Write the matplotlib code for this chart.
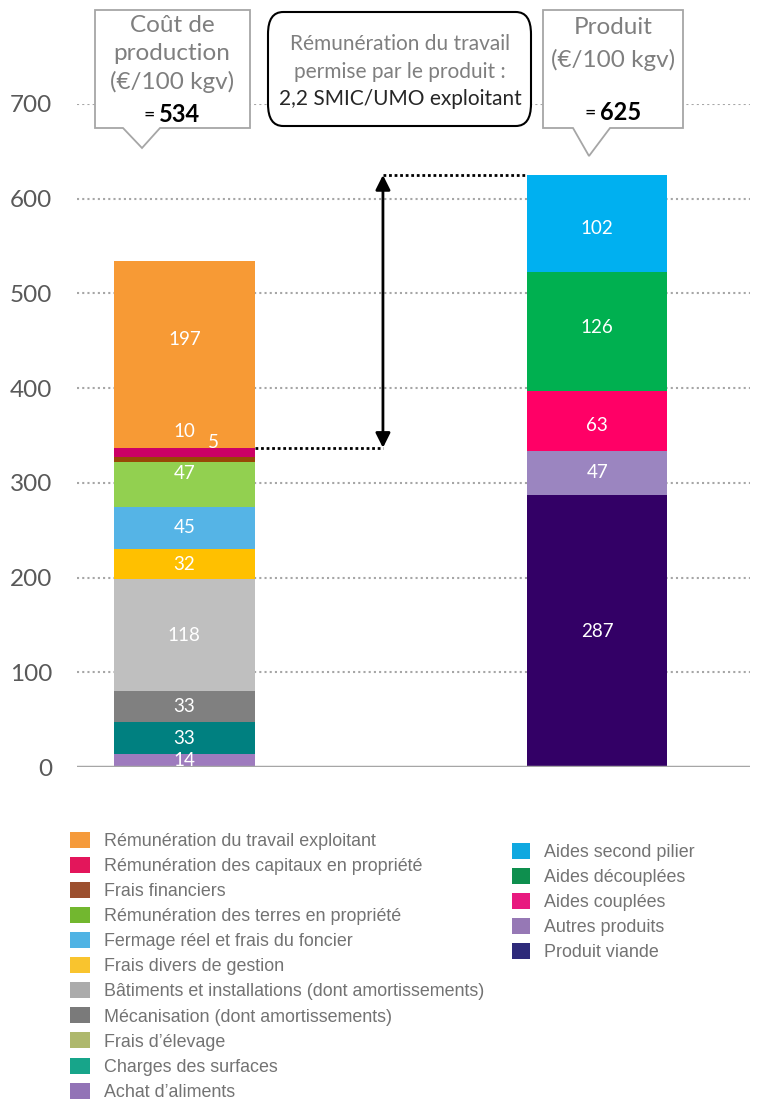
import matplotlib.pyplot as plt
import numpy as np
from matplotlib.patches import Polygon, FancyBboxPatch, Patch

# cost components, bottom -> top
cost_labels = ["Achat d’aliments", "Charges des surfaces", "Frais d’élevage",
               "Mécanisation (dont amortissements)",
               "Bâtiments et installations (dont amortissements)",
               "Frais divers de gestion", "Fermage réel et frais du foncier",
               "Rémunération des terres en propriété", "Frais financiers",
               "Rémunération des capitaux en propriété",
               "Rémunération du travail exploitant"]
cost_values = [14, 33, 0, 33, 118, 32, 45, 47, 5, 10, 197]
cost_colors = ["#9E7BBE", "#008080", "#A9B96B", "#808080", "#BFBFBF", "#FFC000",
               "#55B4E6", "#92D050", "#974806", "#CC0066", "#F79A35"]
cost_legend_colors = ["#9273B6", "#17A58A", "#AEB86C", "#7A7A7A", "#ABABAB", "#F9C42E",
                      "#4FB3E4", "#72B72F", "#9C4F2E", "#E3165B", "#F59A3B"]

# product components, bottom -> top
prod_labels = ["Produit viande", "Autres produits", "Aides couplées",
               "Aides découplées", "Aides second pilier"]
prod_values = [287, 47, 63, 126, 102]
prod_colors = ["#330066", "#9B85C0", "#FF0066", "#00B050", "#00B0F0"]
prod_legend_colors = ["#2E2A7A", "#9678B5", "#E8197F", "#0E8F4E", "#0FA8E0"]

yticks = [0, 100, 200, 300, 400, 500, 600, 700]

W, H = 758, 1102
fig = plt.figure(figsize=(W / 100, H / 100), dpi=100)


def fx(px):
    return px / W


def fy(py):
    return 1 - py / H


ax = fig.add_axes([fx(77), fy(767), fx(750) - fx(77), fy(104) - fy(767)])
ax.set_ylim(0, 700)
ax.set_xlim(-0.26, 1.37)
for s in ax.spines.values():
    s.set_visible(False)
ax.set_xticks([])
ax.set_yticks(yticks)
ax.set_yticklabels([str(t) for t in yticks], fontfamily="Lato", fontsize=17.5, color="#595959")
ax.tick_params(axis="y", length=0, pad=18)
for t in yticks[1:]:
    ax.axhline(t, color="#A6A6A6", lw=1.5, ls=(0, (1, 1.5)), zorder=0)
ax.axhline(0, color="#A6A6A6", lw=2.5, zorder=3)

bw = 0.34
xc, xp = 0, 1

# label nudges (data units), as placed in the original
nudge = {7: (0, 11), 8: (0.07, 18), 9: (0.0, 22), 10: (0, 16)}
pnudge = {2: (0, -5), 3: (0, 4), 4: (0, -5)}

bottom = 0
for i, (v, c) in enumerate(zip(cost_values, cost_colors)):
    ax.bar(xc, v, bw, bottom=bottom, color=c, zorder=2)
    if v > 0:
        dx, dy = nudge.get(i, (0, 0))
        ax.text(xc + dx, bottom + v / 2 + dy, str(v), ha="center", va="center",
                color="white", fontsize=13.5, fontfamily="Lato", zorder=4, clip_on=True)
    bottom += v
cost_total = bottom

bottom = 0
for i, (v, c) in enumerate(zip(prod_values, prod_colors)):
    ax.bar(xp, v, bw, bottom=bottom, color=c, zorder=2)
    dx, dy = pnudge.get(i, (0, 0))
    ax.text(xp + dx, bottom + v / 2 + dy, str(v), ha="center", va="center",
            color="white", fontsize=13.5, fontfamily="Lato", zorder=4)
    bottom += v
prod_total = bottom

# labour remuneration allowed by product
base = cost_total - cost_values[-1]
xa = 0.481
ax.plot([xc + bw / 2, xa], [base, base], color="black", lw=2, ls=(0, (1, 1)), zorder=3)
ax.plot([xa, xp - bw / 2], [prod_total, prod_total], color="black", lw=2, ls=(0, (1, 1)), zorder=3)
ax.annotate("", xy=(xa, prod_total), xytext=(xa, base),
            arrowprops=dict(arrowstyle="<|-|>", color="black", lw=2,
                            mutation_scale=22, shrinkA=0, shrinkB=0), zorder=4)


def callout(pts):
    poly = Polygon([(fx(x), fy(y)) for x, y in pts], closed=True, transform=fig.transFigure,
                   facecolor="white", edgecolor="#A6A6A6", lw=1.3, zorder=5)
    fig.add_artist(poly)


callout([(95, 10), (250, 10), (250, 128), (160, 128), (142, 148), (123, 128), (95, 128)])
callout([(543, 10), (683, 10), (683, 128), (610, 128), (589, 156), (573, 128), (543, 128)])
box = FancyBboxPatch((fx(268), fy(126)), fx(531) - fx(268), fy(12) - fy(126),
                     boxstyle="round,pad=0,rounding_size=0.02", transform=fig.transFigure,
                     facecolor="white", edgecolor="black", lw=1.5, zorder=5)
fig.add_artist(box)

grey = "#7F7F7F"
for txt, y in [("Coût de", 25), ("production", 54), ("(€/100 kgv)", 82)]:
    fig.text(fx(172), fy(y), txt, ha="center", va="center", fontsize=17.5,
             fontfamily="Lato", color=grey, zorder=6)
fig.text(fx(155), fy(115), "=", ha="right", va="center", fontsize=14,
         fontfamily="Lato", color="black", zorder=6)
fig.text(fx(159), fy(115), str(cost_total), ha="left", va="center", fontsize=17,
         fontfamily="Lato", fontweight="bold", color="black", zorder=6)

for txt, y in [("Produit", 28), ("(€/100 kgv)", 60)]:
    fig.text(fx(613), fy(y), txt, ha="center", va="center", fontsize=17.5,
             fontfamily="Lato", color=grey, zorder=6)
fig.text(fx(596), fy(113), "=", ha="right", va="center", fontsize=14,
         fontfamily="Lato", color="black", zorder=6)
fig.text(fx(600), fy(113), str(prod_total), ha="left", va="center", fontsize=17,
         fontfamily="Lato", fontweight="bold", color="black", zorder=6)

fig.text(fx(400), fy(44), "Rémunération du travail", ha="center", va="center",
         fontsize=15, fontfamily="Lato", color=grey, zorder=6)
fig.text(fx(400), fy(72), "permise par le produit :", ha="center", va="center",
         fontsize=15, fontfamily="Lato", color=grey, zorder=6)
fig.text(fx(400), fy(99), "2,2 SMIC/UMO exploitant", ha="center", va="center",
         fontsize=15, fontfamily="Lato", color="#262626", zorder=6)

# legends
h1 = [Patch(facecolor=c, edgecolor="none") for c in cost_legend_colors[::-1]]
leg1 = fig.legend(h1, cost_labels[::-1], loc="upper left", bbox_to_anchor=(fx(70), fy(832)),
                  frameon=False, borderpad=0, borderaxespad=0, handlelength=1.1,
                  handleheight=1.0, handletextpad=0.8, labelspacing=0.39,
                  prop={"family": "Liberation Sans", "size": 12.85})
for t in leg1.get_texts():
    t.set_color("#737373")
h2 = [Patch(facecolor=c, edgecolor="none") for c in prod_legend_colors[::-1]]
leg2 = fig.legend(h2, prod_labels[::-1], loc="upper left", bbox_to_anchor=(fx(512), fy(843)),
                  frameon=False, borderpad=0, borderaxespad=0, handlelength=1.0,
                  handleheight=1.0, handletextpad=0.8, labelspacing=0.39,
                  prop={"family": "Liberation Sans", "size": 12.85})
for t in leg2.get_texts():
    t.set_color("#737373")

fig.savefig("out.png", dpi=100)
